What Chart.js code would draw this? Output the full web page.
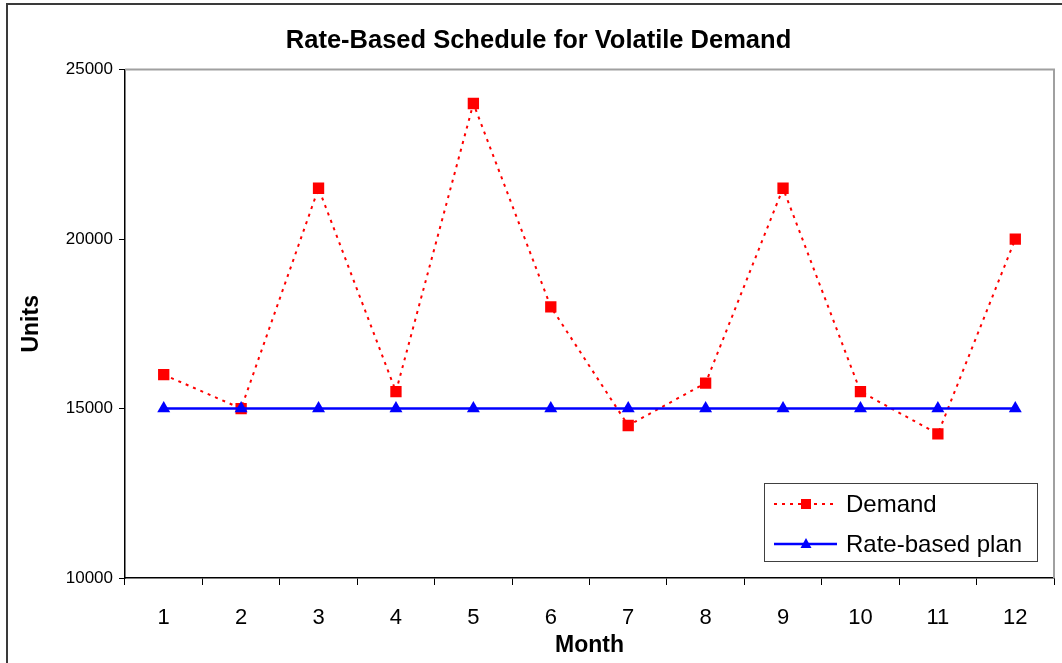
<!DOCTYPE html>
<html>
<head>
<meta charset="utf-8">
<script src="https://cdn.jsdelivr.net/npm/chart.js@4.4.1/dist/chart.umd.min.js"></script>
<style>
  body { margin: 0; background: #fff; overflow: hidden; }
  #frame { position: absolute; left: 6px; top: 3px; width: 1100px; height: 700px;
           border-left: 2px solid #3a3a3a; border-top: 2px solid #3a3a3a; }
  #myLineChart { position: absolute; left: 0; top: 0; }
</style>
</head>
<body>
<div id="frame"></div>
<canvas id="myLineChart" width="1062" height="663"></canvas>
<script>
const months = ['1', '2', '3', '4', '5', '6', '7', '8', '9', '10', '11', '12'];
const demand = [16000, 15000, 21500, 15500, 24000, 18000, 14500, 15750, 21500, 15500, 14250, 20000];
const ratePlan = [15000, 15000, 15000, 15000, 15000, 15000, 15000, 15000, 15000, 15000, 15000, 15000];
const yTicks = [10000, 15000, 20000, 25000];

const FONT = "'Liberation Sans', Arial, sans-serif";

// gray border on top and right of the plot area, like excel
const plotBorder = {
    id: 'plotBorder',
    beforeDatasetsDraw(chart) {
        const a = chart.chartArea;
        const ctx = chart.ctx;
        ctx.save();
        ctx.strokeStyle = '#a0a0a0';
        ctx.lineWidth = 2;
        ctx.beginPath();
        ctx.moveTo(a.left, a.top);
        ctx.lineTo(a.right, a.top);
        ctx.lineTo(a.right, a.bottom);
        ctx.stroke();
        ctx.restore();
    }
};

// legend box inside the plot, bottom right
const boxLegend = {
    id: 'boxLegend',
    afterDraw(chart) {
        const ctx = chart.ctx;
        const x0 = 764, y0 = 483, w = 273, h = 78;
        ctx.save();
        ctx.fillStyle = '#fff';
        ctx.fillRect(x0, y0, w, h);
        ctx.strokeStyle = '#404040';
        ctx.lineWidth = 1;
        ctx.strokeRect(x0 + 0.5, y0 + 0.5, w, h);
        chart.data.datasets.forEach(function(ds, i) {
            const y = y0 + 21 + i * 40;
            ctx.strokeStyle = ds.borderColor;
            ctx.lineWidth = ds.borderWidth;
            ctx.setLineDash(ds.borderDash || []);
            ctx.beginPath();
            ctx.moveTo(x0 + 10, y);
            ctx.lineTo(x0 + 73, y);
            ctx.stroke();
            ctx.setLineDash([]);
            ctx.fillStyle = ds.pointBackgroundColor;
            const mx = x0 + 42;
            if (ds.pointStyle === 'rect') {
                ctx.fillRect(mx - 5, y - 5, 10, 10);
            } else {
                ctx.beginPath();
                ctx.moveTo(mx, y - 6);
                ctx.lineTo(mx + 5.5, y + 4);
                ctx.lineTo(mx - 5.5, y + 4);
                ctx.closePath();
                ctx.fill();
            }
            ctx.fillStyle = '#000';
            ctx.font = '24px ' + FONT;
            ctx.textBaseline = 'middle';
            ctx.fillText(ds.label, x0 + 82, y + 1);
        });
        ctx.restore();
    }
};

const ctx = document.getElementById('myLineChart').getContext('2d');
const myChart = new Chart(ctx, {
    type: 'line',
    data: {
        labels: months,
        datasets: [{
            label: 'Demand',
            data: demand,
            borderColor: '#ff0000',
            borderWidth: 2,
            borderDash: [3, 5],
            pointStyle: 'rect',
            pointRadius: 8,
            pointBackgroundColor: '#ff0000',
            pointBorderColor: '#ff0000',
            pointBorderWidth: 0,
            tension: 0,
            order: 1
        }, {
            label: 'Rate-based plan',
            data: ratePlan,
            borderColor: '#0000ff',
            borderWidth: 2.5,
            pointStyle: 'triangle',
            pointRadius: 7.5,
            pointBackgroundColor: '#0000ff',
            pointBorderColor: '#0000ff',
            pointBorderWidth: 0,
            tension: 0,
            order: 0
        }]
    },
    options: {
        responsive: false,
        animation: false,
        layout: { padding: { left: 20, right: 5, top: 0, bottom: 0 } },
        plugins: {
            legend: { display: false },
            tooltip: { enabled: false },
            title: {
                display: true,
                text: 'Rate-Based Schedule for Volatile Demand',
                color: '#000',
                font: { family: FONT, size: 25.5, weight: 'bold' },
                padding: { top: 26, bottom: 13 }
            }
        },
        scales: {
            x: {
                offset: true,
                grid: { offset: true, drawOnChartArea: false, tickLength: 7, color: '#000', tickWidth: 1 },
                border: { color: '#000', width: 1.5 },
                ticks: { color: '#000', padding: 20, maxRotation: 0, font: { family: FONT, size: 22 } },
                title: {
                    display: true,
                    text: 'Month',
                    color: '#000',
                    font: { family: FONT, size: 23, weight: 'bold' },
                    padding: { top: 0, bottom: 4 }
                },
                afterFit(scale) { scale.height = 85; }
            },
            y: {
                min: 10000,
                max: 25000,
                afterBuildTicks(scale) { scale.ticks = yTicks.map(v => ({ value: v })); },
                grid: { drawOnChartArea: false, tickLength: 6, color: '#000' },
                border: { color: '#000', width: 1.5 },
                ticks: {
                    color: '#000', padding: 6, font: { family: FONT, size: 17 },
                    callback: v => String(v)
                },
                title: {
                    display: true,
                    text: 'Units',
                    color: '#000',
                    font: { family: FONT, size: 23, weight: 'bold', lineHeight: 1 },
                    padding: { top: 0, bottom: 0 }
                },
                afterFit(scale) { scale.width = 105; }
            }
        }
    },
    plugins: [plotBorder, boxLegend]
});
</script>
</body>
</html>
